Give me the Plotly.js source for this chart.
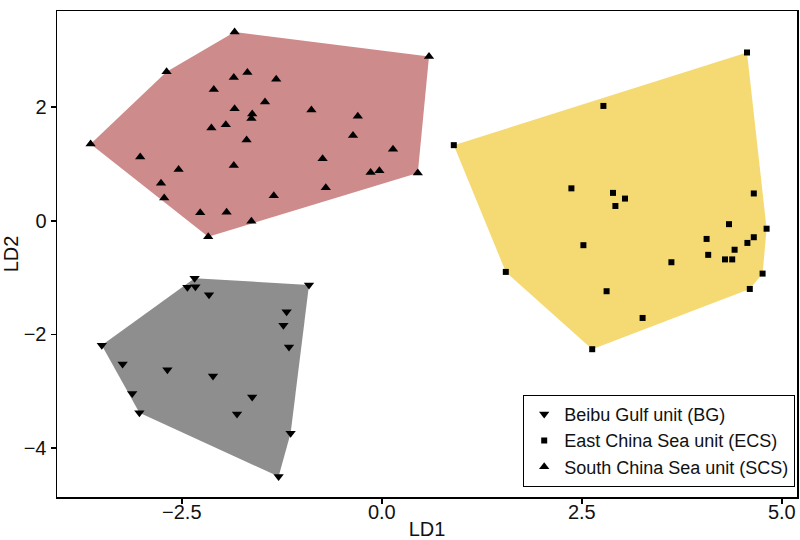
<!DOCTYPE html>
<html>
<head>
<meta charset="utf-8">
<script src="https://cdn.plot.ly/plotly-3.0.1.min.js"></script>
<style>html,body{margin:0;padding:0;background:#fff;}#chart{width:800px;height:540px;}</style>
</head>
<body>
<div id="chart"></div>
<script>
// Beibu Gulf unit (BG)
const bgX = [-2.34,-2.43,-2.33,-0.91,-2.16,-1.19,-1.23,-3.50,-1.16,-3.24,-2.68,-2.11,-3.12,-1.62,-3.03,-1.81,-1.14,-1.29];
const bgY = [-1.01,-1.17,-1.16,-1.13,-1.30,-1.60,-1.84,-2.19,-2.22,-2.52,-2.62,-2.73,-3.04,-3.10,-3.38,-3.40,-3.74,-4.50];
// East China Sea unit (ECS)
const ecsX = [4.565,2.77,0.90,2.37,2.89,3.04,2.92,4.65,4.34,4.81,4.06,4.65,4.57,2.52,4.41,4.08,4.29,4.38,3.62,1.55,4.76,4.60,2.81,3.26,2.63];
const ecsY = [2.96,2.02,1.33,0.57,0.49,0.39,0.26,0.48,-0.06,-0.14,-0.32,-0.29,-0.39,-0.43,-0.51,-0.60,-0.68,-0.68,-0.73,-0.90,-0.93,-1.20,-1.24,-1.71,-2.26];
// South China Sea unit (SCS)
const scsX = [-1.84,0.59,-2.69,-1.85,-1.68,-1.32,-2.10,-1.46,-1.84,-0.88,-1.62,-1.63,-0.30,-2.13,-1.95,-0.36,-1.69,-3.64,0.14,-3.02,-0.74,-2.54,-1.85,-0.14,-0.03,0.45,-2.76,-0.70,-2.72,-1.35,-2.27,-1.94,-1.63,-2.17];
const scsY = [3.32,2.89,2.62,2.52,2.61,2.49,2.31,2.09,1.97,1.95,1.88,1.80,1.84,1.63,1.69,1.50,1.42,1.35,1.26,1.12,1.09,0.90,0.97,0.85,0.88,0.84,0.66,0.58,0.40,0.44,0.14,0.15,-0.01,-0.28];

const groupNames = ["Beibu Gulf unit (BG)", "East China Sea unit (ECS)", "South China Sea unit (SCS)"];
const xTickVals = [-2.5, 0, 2.5, 5];
const xTickText = ["\u22122.5", "0.0", "2.5", "5.0"];

function hull(xs, ys) {
  const pts = xs.map((x, i) => [x, ys[i]]).sort((a, b) => a[0] - b[0] || a[1] - b[1]);
  const cross = (o, a, b) => (a[0]-o[0])*(b[1]-o[1]) - (a[1]-o[1])*(b[0]-o[0]);
  const lower = [], upper = [];
  for (const p of pts) { while (lower.length >= 2 && cross(lower[lower.length-2], lower[lower.length-1], p) <= 0) lower.pop(); lower.push(p); }
  for (let i = pts.length - 1; i >= 0; i--) { const p = pts[i]; while (upper.length >= 2 && cross(upper[upper.length-2], upper[upper.length-1], p) <= 0) upper.pop(); upper.push(p); }
  upper.pop(); lower.pop();
  const h = lower.concat(upper); h.push(h[0]);
  return {x: h.map(p => p[0]), y: h.map(p => p[1])};
}

const groups = [
  {x: bgX, y: bgY, fill: "rgb(142,142,142)", symbol: "triangle-down", size: 9},
  {x: ecsX, y: ecsY, fill: "rgb(245,218,115)", symbol: "square", size: 6},
  {x: scsX, y: scsY, fill: "rgb(206,139,139)", symbol: "triangle-up", size: 9}
];

const traces = [];
groups.forEach(g => {
  const h = hull(g.x, g.y);
  traces.push({x: h.x, y: h.y, type: "scatter", mode: "lines", fill: "toself", fillcolor: g.fill,
    line: {width: 0, color: g.fill}, showlegend: false, hoverinfo: "skip"});
});
groups.forEach((g, i) => {
  traces.push({x: g.x, y: g.y, type: "scatter", mode: "markers", name: groupNames[i],
    marker: {symbol: g.symbol, size: g.size, color: "#000", line: {width: 0}}});
});

const layout = {
  width: 800, height: 540,
  margin: {l: 57, r: 3, t: 11, b: 43},
  paper_bgcolor: "#fff", plot_bgcolor: "#fff",
  font: {family: "Liberation Sans, Arial, sans-serif", color: "#111"},
  xaxis: {range: [-4.06, 5.19], tickvals: xTickVals, ticktext: xTickText,
    showgrid: false, zeroline: false, showline: true, mirror: true, linecolor: "#000", linewidth: 1.5,
    ticks: "outside", ticklen: 5, tickwidth: 1.5, tickcolor: "#000",
    tickfont: {size: 20, color: "#111"}, ticklabelstandoff: -9,
    title: {text: "LD1", font: {size: 20, color: "#111"}, standoff: 11}},
  yaxis: {range: [-4.86, 3.69], dtick: 2, tick0: 0,
    showgrid: false, zeroline: false, showline: true, mirror: true, linecolor: "#000", linewidth: 1.5,
    ticks: "outside", ticklen: 5, tickwidth: 1.5, tickcolor: "#000",
    tickfont: {size: 20, color: "#111"},
    title: {text: "LD2", font: {size: 20, color: "#111"}, standoff: 6}},
  legend: {x: 0.63, y: 0.021, xanchor: "left", yanchor: "bottom",
    bordercolor: "#000", borderwidth: 1, bgcolor: "#fff",
    font: {size: 18, color: "#111"}, tracegroupgap: 0, itemwidth: 30},
  showlegend: true
};

Plotly.newPlot("chart", traces, layout, {displayModeBar: false, staticPlot: true});
</script>
</body>
</html>
